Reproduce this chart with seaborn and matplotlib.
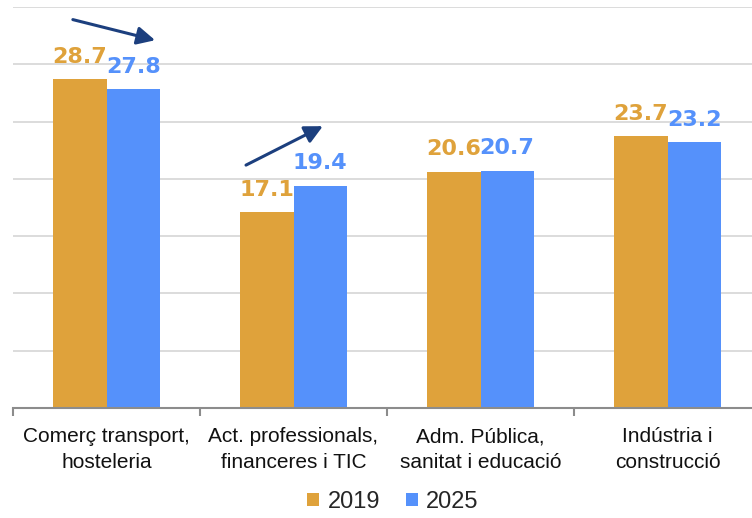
import matplotlib
matplotlib.use("Agg")
import matplotlib.pyplot as plt
import seaborn as sns
import pandas as pd

# -- Data ----------------------------------------------------------------------
categories = ["Comerç transport,\nhosteleria",
              "Act. professionals,\nfinanceres i TIC",
              "Adm. Pública,\nsanitat i educació",
              "Indústria i\nconstrucció"]
years = ["2019", "2025"]
values_2019 = [28.7, 17.1, 20.6, 23.7]
values_2025 = [27.8, 19.4, 20.7, 23.2]

colors = {"2019": "#DFA23B", "2025": "#5591FB"}
arrow_color = "#1C3F7E"

df = pd.DataFrame({
    "sector": categories * 2,
    "year": [years[0]] * 4 + [years[1]] * 4,
    "value": values_2019 + values_2025,
})

# -- Plot ----------------------------------------------------------------------
sns.set_theme(style="white")
plt.rcParams["font.family"] = ["Liberation Sans", "DejaVu Sans"]

fig = plt.figure(figsize=(7.52, 5.18), dpi=100)
ax = fig.add_axes([13 / 752, 110 / 518, 748 / 752, 401 / 518])

sns.barplot(data=df, x="sector", y="value", hue="year", hue_order=years,
            palette=colors, width=0.57, saturation=1, linewidth=0,
            ax=ax, legend=True)

ax.set_ylim(0, 35)
ax.set_xlim(-0.5, 3.5)
ax.set_yticks(range(0, 36, 5))
ax.set_yticklabels([])
ax.yaxis.grid(True, color="#D6D6D6", linewidth=1.2)
ax.set_axisbelow(True)
ax.set_xlabel(""); ax.set_ylabel("")

for side in ["left", "right", "top"]:
    ax.spines[side].set_visible(False)
ax.spines["bottom"].set_color("#8C8C8C")
ax.spines["bottom"].set_linewidth(1.5)

ax.tick_params(axis="x", which="major", length=0, pad=14, labelsize=15, colors="#111111")
for lbl in ax.get_xticklabels():
    lbl.set_linespacing(1.45)
ax.tick_params(axis="y", length=0)
ax.set_xticks([-0.5, 0.5, 1.5, 2.5, 3.5], minor=True)
ax.tick_params(axis="x", which="minor", bottom=True, length=6, width=1.5,
               color="#8C8C8C", direction="out")

# value labels
for container, yr in zip(ax.containers, years):
    ax.bar_label(container, labels=[f"{v:.1f}" for v in container.datavalues],
                 padding=9, color=colors[yr], fontsize=16, fontweight="bold",
                 family=["DejaVu Sans"])

# trend arrows
for start, end in [((-0.18, 33.9), (0.26, 32.1)), ((0.746, 21.2), (1.157, 24.6))]:
    ax.annotate("", xy=end, xytext=start,
                arrowprops=dict(arrowstyle="-|>,head_length=0.9,head_width=0.45",
                                color=arrow_color, lw=2.2, shrinkA=0, shrinkB=0))

# legend
ax.legend(handles=ax.get_legend_handles_labels()[0], labels=years,
          loc="lower center", bbox_to_anchor=(380 / 748, -0.285), ncol=2,
          frameon=False, fontsize=17, handlelength=0.5, handleheight=0.5,
          handletextpad=0.35, columnspacing=1.1, borderaxespad=0.0)

fig.savefig("out.png", dpi=100)
